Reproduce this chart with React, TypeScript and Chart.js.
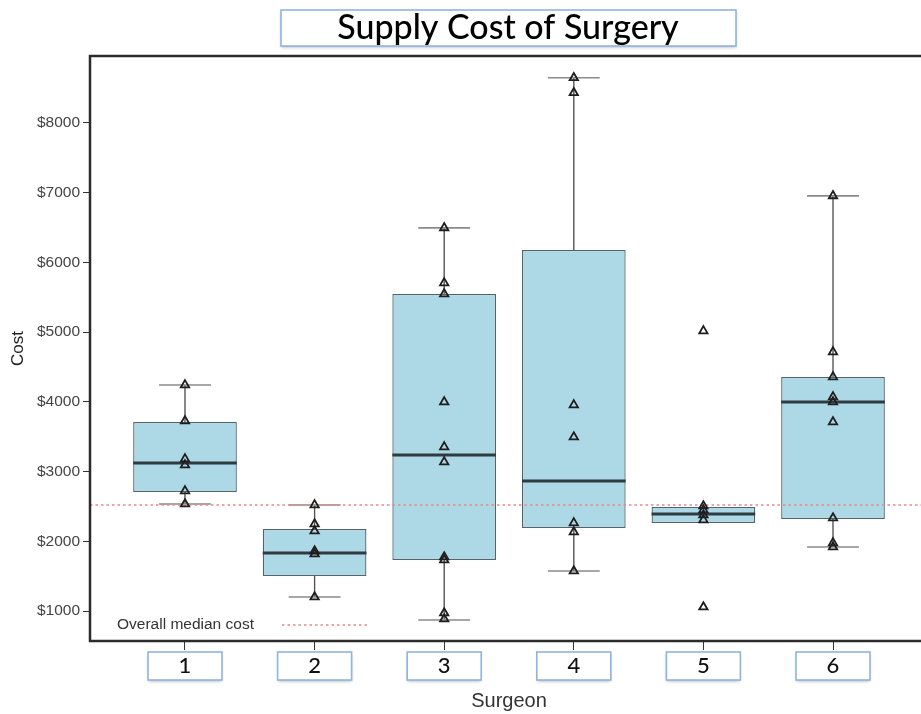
import React, { useEffect, useRef } from "react";
import { Chart, registerables } from "chart.js";

Chart.register(...registerables);

// ---- data ----
const SURGEONS = ["1", "2", "3", "4", "5", "6"];
const SURGEON_X = [1, 2, 3, 4, 5, 6];
const Q1 = [2707, 1502, 1732, 2191, 2263, 2320];
const MEDIAN = [3123, 1832, 3238, 2865, 2392, 3999];
const Q3 = [3712, 2176, 5548, 6179, 2492, 4357];
const WHISKER_LOW = [2535, 1201, 871, 1574, 2263, 1918];
const WHISKER_HIGH = [4242, 2521, 6495, 8647, 2492, 6954];

const POINTS_1 = [4242, 3726, 3181, 3095, 2722, 2535];
const POINTS_2 = [2521, 2248, 2148, 1861, 1818, 1201];
const POINTS_3 = [6495, 5706, 5548, 3999, 3353, 3138, 1775, 1732, 971, 885];
const POINTS_4 = [8647, 8432, 3956, 3496, 2263, 2133, 1574];
const POINTS_5 = [5017, 2506, 2449, 2377, 2306, 1057];
const POINTS_6 = [6954, 4716, 4357, 4070, 3999, 3712, 2334, 1976, 1918];
const ALL_POINTS = [POINTS_1, POINTS_2, POINTS_3, POINTS_4, POINTS_5, POINTS_6];

const OVERALL_MEDIAN = 2520;
const Y_TICKS = [1000, 2000, 3000, 4000, 5000, 6000, 7000, 8000];
const Y_MIN = 570;
const Y_MAX = 8960;
const X_MIN = 0.267;
const X_MAX = 6.733;

const TITLE = "Supply Cost of Surgery";
const Y_TITLE = "Cost";
const X_TITLE = "Surgeon";
const LEGEND_TEXT = "Overall median cost";

const SANS = "'Liberation Sans', Arial, sans-serif";
const CAL = "Lato, 'Open Sans', sans-serif";

function labelBox(ctx: CanvasRenderingContext2D, x: number, y: number, w: number, h: number) {
  ctx.save();
  ctx.shadowColor = "rgba(0,0,0,0.28)";
  ctx.shadowBlur = 3;
  ctx.shadowOffsetY = 1.5;
  ctx.fillStyle = "#ffffff";
  ctx.fillRect(x, y, w, h);
  ctx.restore();
  ctx.save();
  ctx.strokeStyle = "#8fb5df";
  ctx.lineWidth = 1.6;
  ctx.strokeRect(x, y, w, h);
  ctx.restore();
}

const extrasPlugin = {
  id: "boxExtras",
  beforeDraw(chart: any) {
    const ctx = chart.ctx as CanvasRenderingContext2D;
    const ca = chart.chartArea;
    const xs = chart.scales.x;
    // title box + title
    const cx = (ca.left + ca.right) / 2 - 1;
    labelBox(ctx, cx - 227, 10, 455, 36);
    ctx.save();
    ctx.fillStyle = "#000";
    ctx.font = `500 34px ${CAL}`;
    ctx.textAlign = "center";
    ctx.textBaseline = "middle";
    ctx.fillText(TITLE, cx, 28);
    ctx.restore();
    // x tick label boxes
    SURGEON_X.forEach((v) => {
      const px = xs.getPixelForValue(v);
      labelBox(ctx, px - 37, xs.top + 11, 74, 28);
    });
  },
  afterDatasetDraw(chart: any, args: any) {
    if (args.index !== 0) return;
    const ctx = chart.ctx as CanvasRenderingContext2D;
    const xs = chart.scales.x;
    const ys = chart.scales.y;
    const ca = chart.chartArea;
    const bar = chart.getDatasetMeta(0).data;
    ctx.save();
    SURGEON_X.forEach((v, i) => {
      const px = xs.getPixelForValue(v);
      const w = bar[i] ? bar[i].width : 104;
      const yq1 = ys.getPixelForValue(Q1[i]);
      const yq3 = ys.getPixelForValue(Q3[i]);
      const ylo = ys.getPixelForValue(WHISKER_LOW[i]);
      const yhi = ys.getPixelForValue(WHISKER_HIGH[i]);
      const ymed = ys.getPixelForValue(MEDIAN[i]);
      // whiskers
      if (WHISKER_HIGH[i] > Q3[i]) {
        ctx.strokeStyle = "#555";
        ctx.lineWidth = 1.4;
        ctx.beginPath();
        ctx.moveTo(px, yq3);
        ctx.lineTo(px, yhi);
        ctx.stroke();
        ctx.strokeStyle = "#8a8a8a";
        ctx.lineWidth = 1.6;
        ctx.beginPath();
        ctx.moveTo(px - w / 4, yhi);
        ctx.lineTo(px + w / 4, yhi);
        ctx.stroke();
      }
      if (WHISKER_LOW[i] < Q1[i]) {
        ctx.strokeStyle = "#555";
        ctx.lineWidth = 1.4;
        ctx.beginPath();
        ctx.moveTo(px, yq1);
        ctx.lineTo(px, ylo);
        ctx.stroke();
        ctx.strokeStyle = "#8a8a8a";
        ctx.lineWidth = 1.6;
        ctx.beginPath();
        ctx.moveTo(px - w / 4, ylo);
        ctx.lineTo(px + w / 4, ylo);
        ctx.stroke();
      }
      // median
      ctx.strokeStyle = "#2e3b40";
      ctx.lineWidth = 3;
      ctx.beginPath();
      ctx.moveTo(px - w / 2, ymed);
      ctx.lineTo(px + w / 2, ymed);
      ctx.stroke();
    });
    // overall median dotted line
    const yom = ys.getPixelForValue(OVERALL_MEDIAN);
    ctx.strokeStyle = "#e58a8c";
    ctx.lineWidth = 1.6;
    ctx.setLineDash([2.5, 3]);
    ctx.beginPath();
    ctx.moveTo(ca.left, yom);
    ctx.lineTo(ca.right, yom);
    ctx.stroke();
    ctx.restore();
  },
  afterDraw(chart: any) {
    const ctx = chart.ctx as CanvasRenderingContext2D;
    const ca = chart.chartArea;
    ctx.save();
    // legend
    ctx.fillStyle = "#333";
    ctx.font = `15.5px ${SANS}`;
    ctx.textAlign = "left";
    ctx.textBaseline = "middle";
    ctx.fillText(LEGEND_TEXT, ca.left + 27, ca.bottom - 16);
    ctx.strokeStyle = "#e58a8c";
    ctx.lineWidth = 1.6;
    ctx.setLineDash([2.5, 3]);
    ctx.beginPath();
    ctx.moveTo(ca.left + 192, ca.bottom - 16);
    ctx.lineTo(ca.left + 278, ca.bottom - 16);
    ctx.stroke();
    ctx.setLineDash([]);
    // frame
    ctx.strokeStyle = "#2b2b2b";
    ctx.lineWidth = 2.5;
    ctx.strokeRect(ca.left, ca.top, ca.right - ca.left, ca.bottom - ca.top);
    ctx.restore();
  },
};

export default function App() {
  const ref = useRef<HTMLCanvasElement | null>(null);
  useEffect(() => {
    if (!ref.current) return;
    const scatterData: { x: number; y: number }[] = [];
    ALL_POINTS.forEach((arr, i) => arr.forEach((y) => scatterData.push({ x: SURGEON_X[i], y })));
    const chart = new Chart(ref.current, {
      type: "bar",
      data: {
        datasets: [
          {
            type: "bar",
            label: "Box",
            data: SURGEON_X.map((x, i) => ({ x, y: [Q1[i], Q3[i]] })) as any,
            backgroundColor: "#add8e6",
            borderColor: "#52656c",
            borderWidth: 1.3,
            borderSkipped: false,
            categoryPercentage: 1,
            barPercentage: 0.8,
            order: 2,
          } as any,
          {
            type: "scatter",
            label: "Cost",
            data: scatterData,
            pointStyle: "triangle",
            pointRadius: 4.8,
            pointBorderWidth: 1.8,
            pointBorderColor: "#1e1e1e",
            pointBackgroundColor: "rgba(0,0,0,0)",
            showLine: false,
            order: 1,
          } as any,
        ],
      },
      options: {
        responsive: false,
        animation: false,
        layout: { padding: { top: 56, left: 0, right: 12, bottom: 0 } },
        plugins: { legend: { display: false }, tooltip: { enabled: false }, title: { display: false } },
        scales: {
          x: {
            type: "linear",
            min: X_MIN,
            max: X_MAX,
            offset: false,
            afterBuildTicks: (s: any) => {
              s.ticks = SURGEON_X.map((v) => ({ value: v }));
            },
            afterFit: (s: any) => {
              s.height = 73;
            },
            ticks: {
              callback: (v: any) => SURGEONS[SURGEON_X.indexOf(Number(v))] ?? "",
              font: { family: CAL, size: 22, weight: "500" },
              color: "#111",
              padding: 3,
              maxRotation: 0,
              autoSkip: false,
            },
            grid: { offset: false, drawOnChartArea: false, drawTicks: true, tickLength: 9, color: "#333", lineWidth: 1 },
            border: { display: false },
            title: {
              display: true,
              text: X_TITLE,
              font: { family: SANS, size: 20 },
              color: "#333",
              padding: { top: 0, bottom: 1 },
            },
          },
          y: {
            type: "linear",
            min: Y_MIN,
            max: Y_MAX,
            afterBuildTicks: (s: any) => {
              s.ticks = Y_TICKS.map((v) => ({ value: v }));
            },
            afterFit: (s: any) => {
              s.width = 90;
            },
            ticks: {
              callback: (v: any) => "$" + v,
              font: { family: SANS, size: 15.5 },
              color: "#444",
              padding: 3,
            },
            grid: { drawOnChartArea: false, drawTicks: true, tickLength: 7, color: "#333", lineWidth: 1 },
            border: { display: false },
            title: {
              display: true,
              text: Y_TITLE,
              font: { family: SANS, size: 17 },
              color: "#222",
              padding: { top: 8, bottom: 0 },
            },
          },
        },
      },
      plugins: [extrasPlugin],
    } as any);
    return () => chart.destroy();
  }, []);
  return (
    <div style={{ position: "fixed", left: 0, top: 0, width: 921, height: 714, overflow: "hidden", background: "#fff" }}>
      <canvas ref={ref} width={940} height={714} style={{ width: 940, height: 714, display: "block" }} />
    </div>
  );
}
